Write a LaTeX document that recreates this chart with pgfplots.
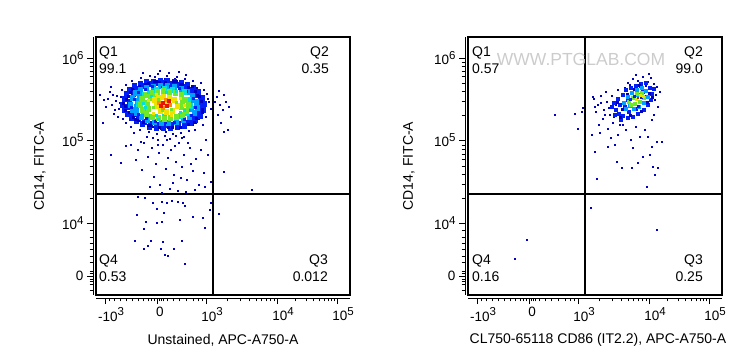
\documentclass[border=0pt]{standalone}
\usepackage{fontspec}
\setmainfont{Liberation Sans}
\usepackage{pgfplots}
\pgfplotsset{compat=1.18}
\definecolor{cnavy}{RGB}{0,0,190}
\definecolor{cblue}{RGB}{0,30,245}
\definecolor{clblue}{RGB}{0,160,255}
\definecolor{ccyan}{RGB}{0,225,220}
\definecolor{cgreen}{RGB}{110,232,40}
\definecolor{cyellow}{RGB}{240,225,0}
\definecolor{corange}{RGB}{255,140,0}
\definecolor{cred}{RGB}{230,20,0}
\newcommand{\pw}[1]{10\raisebox{5.5bp}{\fontsize{11.5bp}{12bp}\selectfont #1}}
\pgfplotsset{
  boxaxis/.style={width=254bp,height=258bp,scale only axis,
    xmin=0,xmax=254,ymin=0,ymax=258,xtick=\empty,ytick=\empty,
    axis line style={line width=1.2bp}},
  tickaxis/.style={width=254bp,height=258bp,scale only axis,
    xmin=0,xmax=254,ymin=0,ymax=258,
    axis x line*=bottom, axis y line*=left,
    axis line shift=3bp,
    axis line style={-, line width=0.7bp},
    tick align=outside,
    major tick length=6bp, minor tick length=3.5bp,
    tick style={black, line width=0.7bp},
    xtick={9,61,110,181,241},
    xticklabels={{-\pw{3}},{\hspace*{-6bp}0},{\pw{3}},{\pw{4}},{\pw{5}}},
    minor xtick={13,18,24,30,36,42,47,52,55,58,63,65,67,71,77,83,90,97,102,106,131,144,153,160,165,170,174,178,199,210,217,223,228,232,235,238},
    ytick={19,72,155,237},
    yticklabels={0,{\pw{4}},{\pw{5}},{\pw{6}}},
    minor ytick={5,11,14,16,22,24,33,39,46,52,58,65,97,111,121,129,136,141,146,150,180,194,204,212,219,224,229,233},
    ticklabel style={font=\fontsize{13.5bp}{15bp}\selectfont},
    xticklabel style={xshift=6bp},
  },
  sp/.style={only marks, color=#1, mark=square*, mark size=0.55bp, mark options={draw=none,fill=#1}},
  sq/.style={only marks, color=#1, mark=square*, mark size=0.85bp, mark options={draw=none,fill=#1}},
  dn/.style={only marks, color=#1, mark=square*, mark size=2.3bp, mark options={draw=none,fill=#1}},
  dm/.style={only marks, color=#1, mark=square*, mark size=1.4bp, mark options={draw=none,fill=#1}},
  gate/.style={black, line width=2bp, no marks},
}
\begin{document}
\begin{tikzpicture}
\useasboundingbox (0,0) rectangle (745bp,364bp);
% ---------------- Panel 1 ----------------
\begin{axis}[boxaxis, at={(96bp,69bp)}, anchor=south west]
\addplot[sp=cnavy] coordinates {
(30,210) (36,214) (41,208) (45,217) (50,212) (54,219) (58,214) (62,221) (66,211) (69,216) (73,222) (77,213) (81,218) (85,211) (89,216) (93,209) (97,214) (101,207) (47,222) (64,224) (83,223) (56,209) (90,220) (38,206) (75,209) (105,212) (59,218) (71,219) (52,215) (79,216) (87,214) (43,212) (33,207)
(12,196) (16,190) (14,203) (19,185) (21,199) (24,192) (18,181) (26,205) (10,188) (22,178) (28,186) (15,208) (8,195) (25,198) (27,176) (4,200) (7,172) (20,194) (17,200) (23,186)
(106,196) (109,188) (111,201) (104,182) (108,205) (113,193) (103,176) (115,186) (110,178) (100,172) (107,170) (112,196)
(30,172) (35,168) (40,174) (44,165) (48,170) (53,163) (57,168) (61,161) (65,166) (69,159) (73,165) (77,161) (81,167) (85,162) (89,169) (93,164) (97,170) (38,162) (51,158) (62,155) (74,156) (86,157) (45,176) (92,175) (34,177) (56,172) (70,163) (80,159) (66,170) (99,165)
(121,198) (124,190) (127,185) (130,193) (133,188) (122,180) (128,200) (135,178) (125,172) (128,163) (132,165) (128,123) (156,105) (119,193) (123,204)
(35,150) (42,145) (48,152) (52,138) (56,147) (60,131) (63,142) (67,150) (70,126) (72,137) (75,145) (78,120) (80,133) (83,152) (86,128) (88,140) (91,115) (94,147) (97,124) (100,136) (103,110) (58,118) (64,110) (74,106) (82,104) (90,103) (99,105) (46,125) (54,108) (66,102) (77,112) (85,117) (95,131) (108,122) (112,140) (109,108) (40,135) (30,149) (25,132) (15,140) (110,155) (115,113) (105,145) (71,155) (88,158) (62,150) (79,149) (92,152) (57,157) (45,153)
(42,98) (49,97) (57,92) (66,93) (71,92) (76,94) (82,93) (87,92) (61,86) (89,89) (68,82) (41,80) (97,78) (107,77) (114,85) (50,73) (61,72) (66,73) (84,75) (48,66) (109,67) (39,54) (55,54) (67,53) (86,54) (52,49) (48,46) (65,46) (78,46) (69,40) (72,39) (89,31) (115,92)
(123,81)
};
\addplot[dn=cblue] coordinates {
(26,190) (28,196) (30,201) (33,205) (38,209) (44,211) (50,213) (57,213) (64,214) (71,214) (78,213) (85,212) (91,210) (97,207) (102,203) (106,197) (108,191) (107,185) (104,179) (99,175) (94,172) (88,169) (81,168) (74,167) (67,167) (60,167) (53,168) (46,171) (40,174) (35,177) (31,181) (28,185) (33,193) (31,188) (104,190) (102,184) (37,201) (100,200)
(36,180) (42,176) (48,173) (54,171) (61,170) (68,170) (75,170) (82,171) (89,172) (96,176) (101,180) (41,206) (47,209) (54,211) (61,212) (68,212) (75,211) (82,210) (88,208) (94,205) (99,203) (104,195)
};
\addplot[sq=cnavy] coordinates {
(27,192) (32,199) (36,206) (43,209) (52,212) (60,214) (69,213) (77,214) (84,211) (92,208) (99,204) (105,194) (106,183) (100,177) (92,171) (84,168) (72,168) (63,168) (55,170) (47,173) (39,176) (33,183) (29,189) (38,180) (101,200)
(30,196) (34,203) (29,185) (37,178) (49,211) (63,213) (86,211) (103,199) (106,186) (98,173) (76,168) (52,170) (42,175) (96,209) (58,214) (80,214)
};
\addplot[dn=clblue] coordinates {
(34,190) (36,197) (39,202) (44,205) (50,207) (57,208) (64,209) (71,209) (78,208) (85,206) (91,203) (96,199) (100,193) (101,187) (98,182) (93,178) (87,175) (80,173) (72,172) (65,172) (58,173) (51,175) (45,178) (40,182) (36,185) (41,194) (95,186) (96,195) (43,199) (40,188) (100,190)
};
\addplot[sq=cblue] coordinates {
(35,188) (38,196) (42,203) (49,206) (56,209) (66,208) (74,209) (83,207) (90,204) (97,197) (99,188) (95,180) (88,176) (78,173) (69,173) (59,174) (50,177) (42,181)
};
\addplot[dn=ccyan] coordinates {
(42,191) (45,196) (48,200) (92,194) (94,189) (90,182) (47,184) (60,205) (76,205) (84,179) (55,178) (68,206) (68,178) (88,203)
};
\addplot[dn=cgreen] coordinates {
(44,190) (46,196) (50,200) (55,202) (61,203) (67,204) (73,203) (79,202) (85,200) (89,195) (92,190) (90,184) (86,180) (80,178) (74,177) (68,176) (62,177) (56,178) (50,181) (46,185) (51,192) (85,188) (54,197) (52,186) (86,194) (57,199)
};
\addplot[sq=ccyan] coordinates {(55,199) (84,183) (49,188) (70,203) (60,180) (47,192) (52,203) (88,185) (93,197) (62,176) (80,204)};
\addplot[dn=cyellow] coordinates {
(58,195) (62,197) (67,198) (73,197) (78,195) (81,189) (76,184) (70,183) (64,184) (60,189) (69,191)
};
\addplot[sq=cgreen] coordinates {(62,196) (75,186) (80,193) (57,188) (66,185)};
\addplot[sq=cyellow] coordinates {(52,195) (84,197) (60,201) (75,180) (88,190) (57,182)};
\addplot[dm=corange] coordinates {(63,192) (74,190) (70,195) (67,187)};
\addplot[dm=cred] coordinates {(67,192) (71,189) (73,194) (65,189)};
\addplot[gate] coordinates {(117,0) (117,258)};
\addplot[gate] coordinates {(0,101) (254,101)};
\end{axis}
\begin{axis}[tickaxis, at={(96bp,69bp)}, anchor=south west]
\end{axis}
% ---------------- Panel 2 ----------------
\begin{axis}[boxaxis, at={(468bp,69bp)}, anchor=south west]
\addplot[sp=cnavy] coordinates {
(160,212) (165,216) (170,214) (175,218) (180,213) (183,217) (178,209) (172,208) (157,207) (186,211) (168,220) (181,221) (162,210)
(126,196) (130,190) (133,199) (136,185) (139,193) (142,180) (128,183) (135,176) (145,172) (140,166) (131,170) (148,190) (144,199) (138,203) (150,205) (125,198) (127,188) (133,192) (141,187) (146,178) (137,180) (152,170)
(187,195) (190,188) (186,180) (192,203) (189,208) (184,175) (188,200)
(132,162) (140,148) (143,157) (165,147) (172,158) (184,148) (189,153) (194,153) (149,133) (154,127) (164,127) (170,132) (175,138) (182,140) (185,128) (190,127) (187,120) (179,108) (129,116) (127,143) (124,160) (150,160) (158,165) (163,155) (177,165) (155,170) (168,168) (180,158) (147,150)
(87,180) (107,181) (110,166) (114,183) (115,187)
(123,87) (189,65) (59,55) (47,36)
};
\addplot[dm=cblue] coordinates {
(148,185) (152,190) (150,196) (155,200) (158,205) (163,207) (168,209) (173,211) (178,212) (182,207) (184,201) (183,195) (180,190) (176,185) (170,181) (165,178) (160,177) (155,179) (151,181) (146,192) (157,188) (160,195) (175,203) (186,206) (144,188) (147,180) (153,175) (161,183) (168,186) (178,198)
};
\addplot[sq=cnavy] coordinates {(154,186) (159,201) (166,206) (181,202) (179,193) (173,184) (162,180) (149,193) (171,210) (184,198) (152,178)};
\addplot[dm=clblue] coordinates {
(156,192) (160,198) (164,202) (169,205) (174,207) (178,204) (180,198) (176,192) (171,188) (166,186) (162,189) (158,186) (170,200)
};
\addplot[dm=cgreen] coordinates {
(161,193) (165,197) (169,201) (174,202) (176,197) (172,193) (167,191) (163,190)
};
\addplot[sq=cblue] coordinates {(166,199) (173,198) (162,196) (170,189)};
\addplot[sq=cyellow] coordinates {(168,196) (172,200) (175,199)};
\addplot[sp=cred] coordinates {(170,197)};
\addplot[gate] coordinates {(117,0) (117,258)};
\addplot[gate] coordinates {(0,101) (254,101)};
\end{axis}
\begin{axis}[tickaxis, at={(468bp,69bp)}, anchor=south west]
\end{axis}
% ---------------- Texts ----------------
\begin{scope}[every node/.style={inner sep=0pt, font=\fontsize{14bp}{16bp}\selectfont}]
\node[anchor=base west] at (99bp,307bp) {Q1};
\node[anchor=base west] at (99bp,290bp) {99.1};
\node[anchor=base east] at (329bp,307bp) {Q2};
\node[anchor=base east] at (329bp,290bp) {0.35};
\node[anchor=base west] at (99bp,99bp) {Q4};
\node[anchor=base west] at (99bp,82bp) {0.53};
\node[anchor=base east] at (328bp,99bp) {Q3};
\node[anchor=base east] at (328bp,82bp) {0.012};
\node[anchor=base west] at (472bp,307bp) {Q1};
\node[anchor=base west] at (472bp,290bp) {0.57};
\node[anchor=base east] at (703bp,307bp) {Q2};
\node[anchor=base east] at (703bp,290bp) {99.0};
\node[anchor=base west] at (472bp,99bp) {Q4};
\node[anchor=base west] at (472bp,82bp) {0.16};
\node[anchor=base east] at (703bp,99bp) {Q3};
\node[anchor=base east] at (703bp,82bp) {0.25};
\end{scope}
\node[inner sep=0pt, font=\fontsize{17.5bp}{18bp}\selectfont, text=gray!40] at (581bp,305bp) {WWW.PTGLAB.COM};
\begin{scope}[every node/.style={inner sep=0pt, font=\fontsize{14bp}{16bp}\selectfont}]
\node at (223bp,24bp) {Unstained, APC-A750-A};
\node at (598bp,24bp) {CL750-65118 CD86 (IT2.2), APC-A750-A};
\node[rotate=90] at (40bp,198bp) {CD14, FITC-A};
\node[rotate=90] at (409bp,198bp) {CD14, FITC-A};
\end{scope}
\end{tikzpicture}
\end{document}
